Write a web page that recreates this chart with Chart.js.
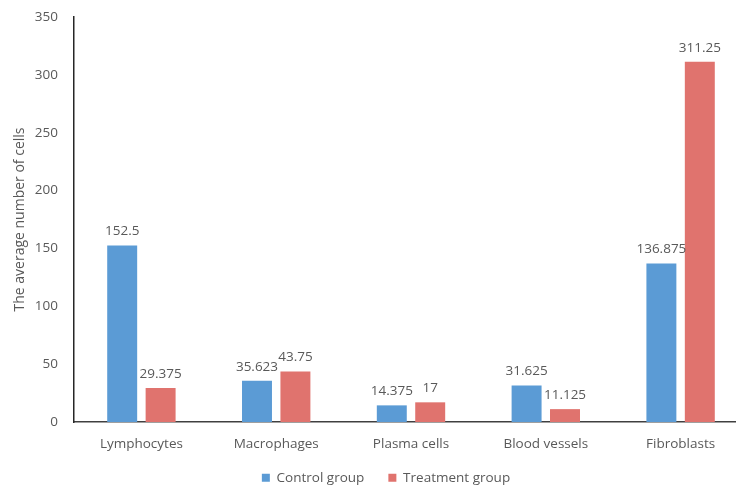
<!DOCTYPE html>
<html>
<head>
<meta charset="utf-8">
<script src="https://cdn.jsdelivr.net/npm/chart.js@4.4.0/dist/chart.umd.min.js"></script>
<style>
  html, body { margin: 0; padding: 0; background: #fff; overflow: hidden; }
  #wrap { width: 762px; height: 487px; }
</style>
</head>
<body>
<div id="wrap"><canvas id="cellsChart" width="762" height="487"></canvas></div>
<script>
// values
const categories = ["Lymphocytes", "Macrophages", "Plasma cells", "Blood vessels", "Fibroblasts"];
const controlValues = [152.5, 35.623, 14.375, 31.625, 136.875];
const treatmentValues = [29.375, 43.75, 17, 11.125, 311.25];
const seriesNames = ["Control group", "Treatment group"];
const yTicks = [0, 50, 100, 150, 200, 250, 300, 350];

const textColor = "#595959";
const fontFamily = "'Open Sans', sans-serif";
const legendPad = 24;

// numbers above each bar
const barValueLabels = {
  id: "barValueLabels",
  afterDatasetsDraw(chart) {
    const ctx = chart.ctx;
    ctx.save();
    ctx.font = "13.5px " + fontFamily;
    ctx.fillStyle = textColor;
    ctx.textAlign = "center";
    ctx.textBaseline = "middle";
    chart.data.datasets.forEach((ds, i) => {
      chart.getDatasetMeta(i).data.forEach((bar, j) => {
        ctx.fillText(String(ds.data[j]), bar.x, bar.y - 14);
      });
    });
    ctx.restore();
  }
};

// legend padding is wide (for the gap between items), so keep the strip short
// and pull it up so the items sit just under the category labels
const legendPlacement = {
  id: "legendPlacement",
  beforeLayout(chart) {
    const lg = chart.legend;
    if (!lg || lg._fixedFit) return;
    const orig = lg.fit;
    lg.fit = function () {
      orig.call(this);
      this.height = 28;
    };
    lg._fixedFit = true;
  },
  afterLayout(chart) {
    const lg = chart.legend;
    if (!lg) return;
    lg.top = 471 - legendPad;
    lg.left += 12;
    lg.right += 12;
  }
};

new Chart(document.getElementById("cellsChart"), {
  type: "bar",
  data: {
    labels: categories,
    datasets: [
      {
        label: seriesNames[0],
        data: controlValues,
        backgroundColor: "#5B9BD5",
        categoryPercentage: 0.57,
        barPercentage: 0.78
      },
      {
        label: seriesNames[1],
        data: treatmentValues,
        backgroundColor: "#E0736E",
        categoryPercentage: 0.57,
        barPercentage: 0.78
      }
    ]
  },
  options: {
    responsive: false,
    animation: false,
    devicePixelRatio: 1,
    layout: { padding: { top: 17, right: 14, left: 0, bottom: 0 } },
    plugins: {
      legend: {
        position: "bottom",
        labels: {
          boxWidth: 8,
          boxHeight: 8,
          padding: legendPad,
          color: textColor,
          font: { family: fontFamily, size: 13.5 }
        }
      },
      tooltip: { enabled: false }
    },
    scales: {
      x: {
        grid: { display: false, drawTicks: false },
        border: { display: true, color: "#404040", width: 1.5 },
        ticks: {
          color: textColor,
          padding: 14,
          font: { family: fontFamily, size: 13.5 }
        },
        afterFit(scale) { scale.height = 37; }
      },
      y: {
        min: 0,
        max: 350,
        grid: { display: false, drawTicks: false },
        border: { display: true, color: "#262626", width: 1.5 },
        afterBuildTicks(scale) { scale.ticks = yTicks.map(v => ({ value: v })); },
        ticks: {
          color: textColor,
          padding: 16,
          font: { family: fontFamily, size: 13.5 }
        },
        title: {
          display: true,
          text: "The average number of cells",
          color: textColor,
          padding: { top: 12, bottom: 0 },
          font: { family: fontFamily, size: 14 }
        },
        afterFit(scale) {
          scale.width = 74;
          // tick padding would otherwise push the plot top down
          scale.paddingTop = 0;
          scale.paddingBottom = 0;
        }
      }
    }
  },
  plugins: [barValueLabels, legendPlacement]
});
</script>
</body>
</html>
